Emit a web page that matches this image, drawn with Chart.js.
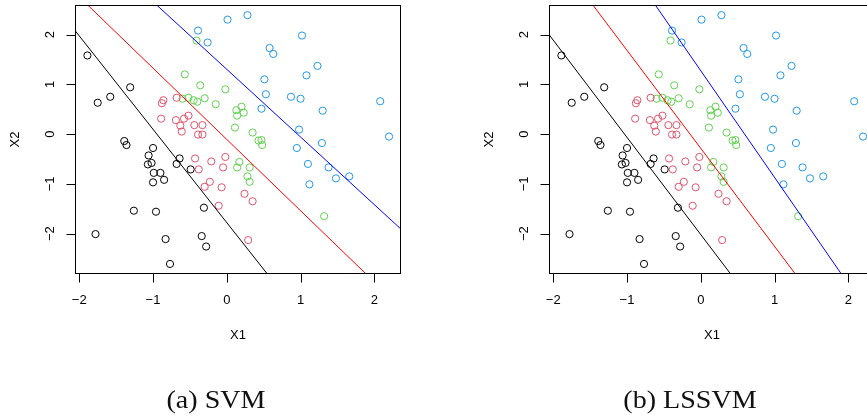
<!DOCTYPE html>
<html>
<head>
<meta charset="utf-8">
<script src="https://cdn.jsdelivr.net/npm/chart.js@4/dist/chart.umd.min.js"></script>
<style>
  html, body { margin: 0; padding: 0; background: #fff; }
  body { width: 867px; height: 419px; overflow: hidden; position: relative; }
  canvas { position: absolute; top: 0; }
  .cap {
    position: absolute; top: 384px;
    font-family: "Liberation Serif", "DejaVu Serif", serif;
    font-size: 26px; line-height: 32px; color: #111; white-space: nowrap;
    transform: translateX(-50%) scaleX(1.08);
  }
</style>
</head>
<body>
<canvas id="svm" width="474" height="419" style="left:0px"></canvas>
<canvas id="lssvm" width="474" height="419" style="left:474px"></canvas>
<div class="cap" style="left:216px">(a) SVM</div>
<div class="cap" style="left:690px">(b) LSSVM</div>
<script>
// Four classes in the (X1, X2) plane
const classColors = ['#000000', '#DF536B', '#61D04F', '#2297E6'];

const class1X = [-1.89, -1.75, -1.58, -1.31, -1.39, -1.36, -1.00, -1.06, -1.07, -1.02, -0.99, -0.90, -0.85,
                 -1.00, -0.68, -0.64, -0.49, -1.26, -0.96, -0.31, -1.78, -0.83, -0.34, -0.28, -0.77];
const class1Y = [ 1.58,  0.63,  0.75,  0.94, -0.14, -0.22, -0.28, -0.43, -0.61, -0.58, -0.78, -0.78, -0.92,
                 -0.97, -0.60, -0.49, -0.71, -1.54, -1.56, -1.48, -2.01, -2.11, -2.05, -2.26, -2.61];

const class2X = [-0.68, -0.86, -0.88, -0.89, -0.69, -0.58, -0.52, -0.63, -0.61, -0.44, -0.33, -0.39, -0.33,
                 -0.43, -0.38, -0.21, -0.02, -0.05, -0.23, -0.30, -0.07, -0.11,  0.24,  0.35,  0.29];
const class2Y = [ 0.73,  0.68,  0.62,  0.31,  0.28,  0.31,  0.37,  0.17,  0.05,  0.18,  0.18, -0.01, -0.01,
                 -0.49, -0.71, -0.55, -0.46, -0.67, -0.96, -1.06, -1.07, -1.44, -1.20, -1.35, -2.13];

const class3X = [-0.41, -0.57, -0.36, -0.60, -0.52, -0.45, -0.40, -0.30, -0.02, -0.15,  0.20,  0.13,  0.14,
                  0.23,  0.11,  0.35,  0.43,  0.47,  0.48,  0.17,  0.14,  0.31,  0.28,  0.31,  1.32];
const class3Y = [ 1.88,  1.20,  0.98,  0.71,  0.73,  0.68,  0.65,  0.72,  0.90,  0.60,  0.55,  0.48,  0.37,
                  0.43,  0.13,  0.03, -0.13, -0.12, -0.22, -0.56, -0.67, -0.67, -0.85, -0.96, -1.65];

const class4X = [-0.39, -0.26,  0.01,  0.28,  1.02,  0.58,  0.63,  1.23,  1.08,  0.51,  0.53,  0.87,  1.00,
                  0.47,  1.30,  2.08,  2.20,  0.98,  0.95,  1.29,  1.10,  1.38,  1.48,  1.66,  1.12];
const class4Y = [ 2.08,  1.84,  2.30,  2.39,  1.98,  1.73,  1.61,  1.37,  1.18,  1.10,  0.80,  0.75,  0.71,
                  0.51,  0.47,  0.66, -0.05,  0.09, -0.28, -0.18, -0.60, -0.67, -0.89, -0.85, -1.01];

// Separating lines, as two end points [x, y] each
const svmBlack   = [[-2.06,  2.085], [0.549, -2.81]];
const svmRed     = [[-1.886, 2.594], [1.887, -2.81]];
const svmBlue    = [[-0.951, 2.594], [2.362, -1.91]];
const lssvmBlack = [[-2.058, 2.000], [0.404, -2.81]];
const lssvmRed   = [[-1.463, 2.594], [1.281, -2.81]];
const lssvmBlue  = [[-0.617, 2.594], [1.905, -2.81]];

const xTicks = [-2, -1, 0, 1, 2];
const yTicks = [-2, -1, 0, 1, 2];
const xLimits = [-2.058, 2.362];
const yLimits = [-2.812, 2.594];
const xTitle = 'X1';
const yTitle = 'X2';

const fmt = v => (v < 0 ? '\u2212' + Math.abs(v) : String(v));

// Box, axes with outward ticks, rotated y labels and axis titles
const rAxes = {
  id: 'rAxes',
  afterDraw(chart) {
    const { ctx, chartArea: a, scales: { x, y } } = chart;
    ctx.save();
    ctx.strokeStyle = '#000';
    ctx.fillStyle = '#000';
    ctx.lineWidth = 1;
    ctx.strokeRect(a.left + 0.5, a.top + 0.5, a.right - a.left - 1, a.bottom - a.top - 1);
    ctx.font = '13px "Liberation Sans", Arial, sans-serif';
    ctx.textAlign = 'center';
    ctx.textBaseline = 'middle';
    const yb = a.bottom - 0.5;
    ctx.beginPath();
    xTicks.forEach(v => {
      const px = Math.round(x.getPixelForValue(v)) + 0.5;
      ctx.moveTo(px, yb);
      ctx.lineTo(px, yb + 9);
    });
    const xl = a.left + 0.5;
    yTicks.forEach(v => {
      const py = Math.round(y.getPixelForValue(v)) + 0.5;
      ctx.moveTo(xl, py);
      ctx.lineTo(xl - 9, py);
    });
    ctx.stroke();
    xTicks.forEach(v => {
      ctx.fillText(fmt(v), x.getPixelForValue(v), 300);
    });
    yTicks.forEach(v => {
      ctx.save();
      ctx.translate(a.left - 25, y.getPixelForValue(v));
      ctx.rotate(-Math.PI / 2);
      ctx.fillText(fmt(v), 0, 0);
      ctx.restore();
    });
    ctx.fillText(xTitle, (a.left + a.right) / 2, 335);
    ctx.save();
    ctx.translate(a.left - 60, (a.top + a.bottom) / 2);
    ctx.rotate(-Math.PI / 2);
    ctx.fillText(yTitle, 0, 0);
    ctx.restore();
    ctx.restore();
  }
};

function pointSet(xs, ys, color) {
  return {
    type: 'scatter',
    data: xs.map((v, i) => ({ x: v, y: ys[i] })),
    borderColor: color,
    backgroundColor: 'rgba(0,0,0,0)',
    pointStyle: 'circle',
    pointRadius: 3.6,
    pointBorderWidth: 1,
    showLine: false,
    order: 1
  };
}

function lineSet(ends, color) {
  return {
    type: 'line',
    data: ends.map(p => ({ x: p[0], y: p[1] })),
    borderColor: color,
    borderWidth: 1,
    pointRadius: 0,
    fill: false,
    order: 0
  };
}

function panel(id, lines) {
  new Chart(document.getElementById(id), {
    type: 'scatter',
    data: {
      datasets: [
        pointSet(class1X, class1Y, classColors[0]),
        pointSet(class2X, class2Y, classColors[1]),
        pointSet(class3X, class3Y, classColors[2]),
        pointSet(class4X, class4Y, classColors[3]),
        lineSet(lines[0], '#000000'),
        lineSet(lines[1], '#FF0000'),
        lineSet(lines[2], '#0000FF')
      ]
    },
    options: {
      responsive: false,
      animation: false,
      devicePixelRatio: 1,
      layout: { padding: { left: 75, top: 1, right: 73, bottom: 145 } },
      scales: {
        x: { type: 'linear', min: xLimits[0], max: xLimits[1], display: false },
        y: { type: 'linear', min: yLimits[0], max: yLimits[1], display: false }
      },
      plugins: { legend: { display: false }, tooltip: { enabled: false } }
    },
    plugins: [rAxes]
  });
}

panel('svm', [svmBlack, svmRed, svmBlue]);
panel('lssvm', [lssvmBlack, lssvmRed, lssvmBlue]);
</script>
</body>
</html>
